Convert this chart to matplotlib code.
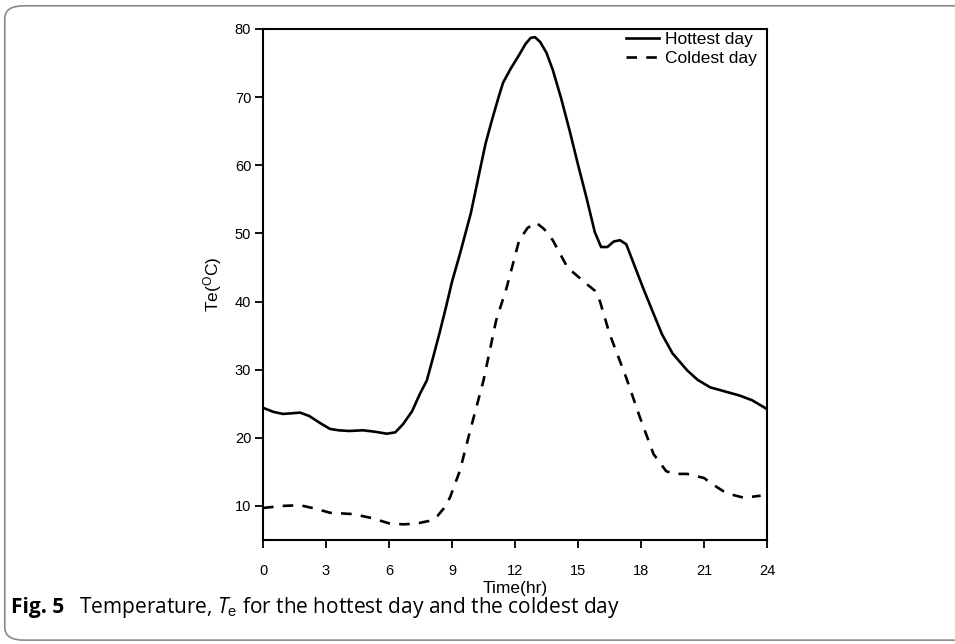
import matplotlib
matplotlib.use("Agg")
import matplotlib.pyplot as plt
from matplotlib.patches import FancyBboxPatch

# Readings (hour, Te in deg C)
hot_hr = [0, 0.5, 0.95, 1.4, 1.76, 2.2, 2.7, 3.19, 3.6, 4.1, 4.76, 5.3, 5.9,
          6.3, 6.67, 7.1, 7.48, 7.8, 8.1, 8.4, 8.7, 9.0, 9.38, 9.9, 10.33,
          10.6, 10.9, 11.2, 11.43, 11.8, 12.2, 12.5, 12.75, 12.95, 13.2, 13.5,
          13.8, 14.2, 14.6, 15.0, 15.4, 15.8, 16.1, 16.4, 16.7, 17.0, 17.3,
          17.6, 18.1, 18.6, 19.0, 19.5, 20.2, 20.7, 21.3, 22.0, 22.7, 23.3,
          23.9, 24]
hot_te = [24.4, 23.8, 23.5, 23.6, 23.7, 23.2, 22.2, 21.3, 21.1, 21.0, 21.1,
          20.9, 20.6, 20.8, 22.0, 23.9, 26.5, 28.4, 31.8, 35.3, 39.0, 42.9,
          47.0, 53.0, 59.3, 63.2, 66.6, 69.8, 72.1, 74.2, 76.2, 77.8, 78.7,
          78.8, 78.1, 76.5, 74.0, 69.8, 65.1, 60.1, 55.3, 50.2, 48.0, 48.0,
          48.8, 49.0, 48.4, 46.0, 42.0, 38.2, 35.2, 32.4, 29.9, 28.5, 27.4,
          26.8, 26.2, 25.5, 24.4, 24.2]

cold_hr = [0, 0.9, 1.76, 2.5, 3.19, 4.3, 5.2, 6.05, 6.7, 7.3, 7.9, 8.3, 8.6,
           8.9, 9.38, 9.86, 10.5, 11.1, 11.6, 12.2, 12.6, 13.0, 13.4, 13.8,
           14.5, 15.4, 15.8, 16.05, 16.5, 17.3, 17.95, 18.6, 19.2, 19.6, 20.2,
           21.0, 21.5, 21.9, 22.4, 22.9, 23.7]
cold_te = [9.7, 10.0, 10.1, 9.6, 9.0, 8.8, 8.2, 7.4, 7.3, 7.4, 7.8, 8.5, 9.6,
           11.2, 15.2, 21.0, 28.4, 37.2, 42.0, 49.0, 50.8, 51.6, 50.6, 49.0,
           45.0, 42.6, 41.6, 40.0, 35.3, 28.8, 23.0, 17.6, 15.1, 14.7, 14.7,
           14.1, 13.0, 12.2, 11.6, 11.2, 11.5]

x_ticks = [0, 3, 6, 9, 12, 15, 18, 21, 24]
y_ticks = [10, 20, 30, 40, 50, 60, 70, 80]

plt.rcParams["font.family"] = ["Liberation Sans", "DejaVu Sans"]
plt.rcParams["mathtext.fontset"] = "custom"
plt.rcParams["mathtext.rm"] = "Liberation Sans"
plt.rcParams["mathtext.it"] = "Open Sans:italic"

fig = plt.figure(figsize=(9.55, 6.44), dpi=100)
ax = fig.add_axes([0.2754, 0.1615, 0.5277, 0.7935])

ax.plot(hot_hr, hot_te, color="black", lw=1.9, ls="-", label="Hottest day")
ax.plot(cold_hr, cold_te, color="black", lw=1.9, ls=(0, (4, 3.5)),
        label="Coldest day")

ax.set_xlim(0, 24)
ax.set_ylim(5, 80)
ax.set_xticks(x_ticks)
ax.set_yticks(y_ticks)
ax.tick_params(direction="out", length=5.5, width=1.3, labelsize=10.5, pad=3)
ax.tick_params(axis="x", pad=11.5)
for sp in ax.spines.values():
    sp.set_linewidth(1.5)

ax.set_xlabel("Time(hr)", fontsize=12.5, labelpad=2.5)
ax.set_ylabel(r"Te($^{\mathrm{O}}$C)", fontsize=12.5, labelpad=8)

ax.legend(loc="upper right", bbox_to_anchor=(0.994, 1.008), frameon=False,
          fontsize=12.5, handlelength=1.9, handletextpad=0.35,
          borderaxespad=0.0, labelspacing=0.2)

# rounded caption frame
frame = FancyBboxPatch((0.005, 0.006), 1.2, 0.985, transform=fig.transFigure,
                       boxstyle="round,pad=0,rounding_size=0.02",
                       fill=False, edgecolor="#8a8a8a", lw=1.2, clip_on=False)
fig.patches.append(frame)

fig.text(0.011, 0.056, "Fig. 5", fontsize=15, fontweight="bold",
         family="Open Sans", va="center")
fig.text(0.083, 0.056,
         r"Temperature, $T_{\mathrm{e}}$ for the hottest day and the coldest day",
         fontsize=15, family="Open Sans", va="center")

fig.savefig("out.png", dpi=100)
